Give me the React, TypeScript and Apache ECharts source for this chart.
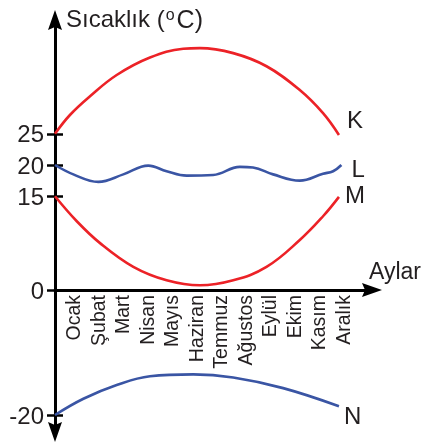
import React, { useEffect, useRef } from "react";
import * as echarts from "echarts";

const months = ["Ocak", "Şubat", "Mart", "Nisan", "Mayıs", "Haziran", "Temmuz", "Ağustos", "Eylül", "Ekim", "Kasım", "Aralık"];
const monthPositions = [1, 2, 3, 4, 5, 6, 7, 8, 9, 10, 11, 12];
const tempTicks = [25, 20, 15, 0, -20];

const kMonths = [0.25, 0.86, 1.68, 2.77, 4.13, 5.49, 6.17, 7.53, 8.89, 10.25, 11.2, 11.85];
const kTemps = [25, 28.0, 31.0, 34.4, 37.2, 38.6, 38.7, 37.9, 35.8, 32.0, 28.3, 24.8];

const lMonths = [0.25, 1.0, 2.02, 3.04, 4.06, 4.81, 5.63, 6.71, 7.8, 8.34, 9.16, 10.25, 11.2, 11.61, 11.95];
const lTemps = [20.0, 18.5, 17.3, 18.5, 19.9, 19.0, 18.3, 18.4, 19.7, 19.6, 18.5, 17.5, 18.6, 19.0, 20.0];

const mMonths = [0.25, 1.14, 2.09, 3.45, 4.81, 6.17, 7.53, 8.89, 10.25, 11.2, 11.85];
const mTemps = [15, 11.0, 7.5, 3.7, 1.55, 0.75, 1.55, 3.7, 8.0, 11.8, 14.9];

const nMonths = [0.25, 1.41, 2.77, 4.13, 5.9, 7.53, 9.57, 11.85];
const nTemps = [-20, -17.4, -15.2, -13.8, -13.5, -14.0, -15.7, -18.6];

const FONT = "'Liberation Sans', Arial, Helvetica, sans-serif";
const TXT = "#231f20";
const RED = "#ec2227";
const BLUE = "#3a55a4";
const ARROW = "path://M7,0 L14,20 L7,17 L0,20 Z";

const Y_MIN = -22.72;
const Y_MAX = 43.2;
const GRID_TOP = 20;
const GRID_BOTTOM = 11;
const CHART_H = 443;

const pairs = (xs: number[], ys: number[]) => xs.map((x, i) => [x, ys[i]]);

export default function App() {
  const ref = useRef<HTMLDivElement>(null);
  useEffect(() => {
    if (!ref.current) return;
    const chart = echarts.init(ref.current, undefined, { renderer: "svg" });
    const gridH = CHART_H - GRID_TOP - GRID_BOTTOM;
    // distance from grid bottom up to the value 0, so the x axis sits on zero
    const zeroOffset = (-Y_MIN / (Y_MAX - Y_MIN)) * gridH;
    const mkSeries = (name: string, data: number[][], color: string, offset: number[]) => ({
      type: "line",
      name,
      data,
      smooth: 0.4,
      showSymbol: false,
      symbol: "none",
      lineStyle: { color, width: 2.6 },
      itemStyle: { color },
      endLabel: {
        show: true,
        formatter: name,
        fontSize: 24,
        fontFamily: FONT,
        color: TXT,
        distance: 5,
        offset,
      },
    });
    const yBase = {
      type: "value",
      min: Y_MIN,
      max: Y_MAX,
      splitLine: { show: false },
    };
    chart.setOption({
      animation: false,
      grid: { left: 55, right: 53, top: GRID_TOP, bottom: GRID_BOTTOM, containLabel: false, outerBoundsMode: "none" },
      xAxis: {
        type: "value",
        min: 0.25,
        max: 13.2,
        position: "bottom",
        offset: -zeroOffset,
        splitLine: { show: false },
        axisLine: {
          show: true,
          onZero: false,
          symbol: ["none", ARROW],
          symbolSize: [14, 20],
          lineStyle: { color: "#000", width: 3 },
        },
        axisTick: { show: false },
        axisLabel: {
          customValues: monthPositions,
          formatter: (v: number) => months[Math.round(v) - 1] ?? "",
          rotate: 90,
          fontSize: 19.5,
          fontFamily: FONT,
          color: TXT,
          margin: 5,
        },
      },
      yAxis: [
        {
          ...yBase,
          axisLine: {
            show: true,
            onZero: false,
            symbol: [ARROW, ARROW],
            symbolSize: [14, 20],
            lineStyle: { color: "#000", width: 3 },
          },
          axisTick: { show: true, customValues: tempTicks, length: 8, lineStyle: { color: "#000", width: 2.5 } },
          axisLabel: {
            customValues: tempTicks,
            formatter: (v: number) => String(v),
            fontSize: 24,
            fontFamily: FONT,
            color: TXT,
            margin: 11,
          },
        },
        {
          ...yBase,
          position: "left",
          axisLine: { show: false, onZero: false },
          axisTick: { show: true, inside: true, customValues: tempTicks, length: 8, lineStyle: { color: "#000", width: 2.5 } },
          axisLabel: { show: false },
        },
      ],
      graphic: [
        {
          type: "text",
          x: 66,
          y: 18.7,
          style: {
            text: "{a|Sıcaklık (}{b|o}{c|C)}",
            verticalAlign: "middle",
            fill: TXT,
            rich: {
              a: { fontSize: 24, fontFamily: FONT, fill: TXT },
              b: { fontSize: 16, fontFamily: FONT, fill: TXT, verticalAlign: "top", padding: [0, 2, 0, 1] },
              c: { fontSize: 25, fontFamily: FONT, fill: TXT },
            },
          },
        },
        {
          type: "text",
          x: 369,
          y: 271,
          style: { text: "Aylar", fontSize: 23, fontFamily: FONT, fill: TXT, verticalAlign: "middle" },
        },
      ],
      series: [
        mkSeries("K", pairs(kMonths, kTemps), RED, [3, -16]),
        mkSeries("L", pairs(lMonths, lTemps), BLUE, [5, 3]),
        mkSeries("M", pairs(mMonths, mTemps), RED, [1, -2]),
        mkSeries("N", pairs(nMonths, nTemps), BLUE, [0, 9]),
      ],
    });
    return () => chart.dispose();
  }, []);
  return <div ref={ref} style={{ position: "fixed", left: 0, top: 0, width: 425, height: 443 }} />;
}
